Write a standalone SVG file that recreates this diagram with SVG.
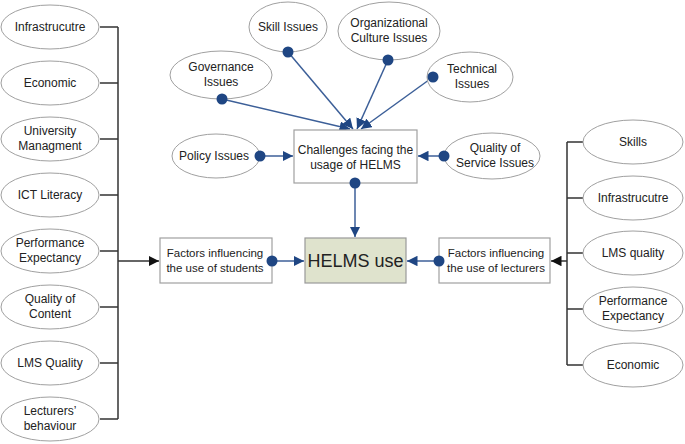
<svg xmlns="http://www.w3.org/2000/svg" width="685" height="444" viewBox="0 0 685 444">
<style>
.el{fill:#fff;stroke:#a0a0a0;stroke-width:1}
.bx{fill:#fff;stroke:#a0a0a0;stroke-width:1.2}
.t{font-family:"Liberation Sans",Arial,sans-serif;font-size:12px;fill:#222;text-anchor:middle}
.s{font-size:11.5px}
.bl{stroke:#3c5f98;stroke-width:1.5;fill:none}
.bk{stroke:#333;stroke-width:1.5;fill:none}
.dot{fill:#1f4683}
</style>
<defs>
<marker id="ab" viewBox="0 0 10 10" refX="10" refY="5" markerWidth="7" markerHeight="7" markerUnits="strokeWidth" orient="auto"><path d="M0,0L10,5L0,10z" fill="#1f4683"/></marker>
<marker id="ak" viewBox="0 0 10 10" refX="10" refY="5" markerWidth="7" markerHeight="7" markerUnits="strokeWidth" orient="auto"><path d="M0,0L10,5L0,10z" fill="#111"/></marker>
</defs>
<g id="connectors">
<path class="bk" d="M100,27H118M100,83H118M100,139H118M100,195H118M100,251H118M100,307H118M100,363H118M100,419H118M118,27V419"/>
<path class="bk" d="M118,261H159" marker-end="url(#ak)"/>
<path class="bk" d="M583,142H567M583,198H567M583,253H567M583,309H567M583,365H567M567,142V365"/>
<path class="bk" d="M567,261H551" marker-end="url(#ak)"/>
<path class="bl" d="M272,261H304" marker-end="url(#ab)"/>
<path class="bl" d="M439,261H407" marker-end="url(#ab)"/>
<path class="bl" d="M355,183V237" marker-end="url(#ab)"/>
<path class="bl" d="M260,156H293" marker-end="url(#ab)"/>
<path class="bl" d="M444,156H418" marker-end="url(#ab)"/>
<path class="bl" d="M222,99L350,129" marker-end="url(#ab)"/>
<path class="bl" d="M288,52L353,129" marker-end="url(#ab)"/>
<path class="bl" d="M388,60L357,129" marker-end="url(#ab)"/>
<path class="bl" d="M433,77L361,129" marker-end="url(#ab)"/>
</g>
<g id="n-infra-l"><ellipse class="el" cx="50" cy="27" rx="49" ry="22"/><text class="t" x="50" y="31">Infrastrucutre</text></g>
<g id="n-econ-l"><ellipse class="el" cx="50" cy="83" rx="49" ry="22"/><text class="t" x="50" y="87">Economic</text></g>
<g id="n-univ"><ellipse class="el" cx="50" cy="139" rx="49" ry="22"/><text class="t" x="50" y="135">University</text><text class="t" x="50" y="150">Managment</text></g>
<g id="n-ict"><ellipse class="el" cx="50" cy="195" rx="49" ry="22"/><text class="t" x="50" y="199">ICT Literacy</text></g>
<g id="n-perf-l"><ellipse class="el" cx="50" cy="251" rx="49" ry="22"/><text class="t" x="50" y="247">Performance</text><text class="t" x="50" y="262">Expectancy</text></g>
<g id="n-qoc"><ellipse class="el" cx="50" cy="307" rx="49" ry="22"/><text class="t" x="50" y="303">Quality of</text><text class="t" x="50" y="318">Content</text></g>
<g id="n-lms-l"><ellipse class="el" cx="50" cy="363" rx="49" ry="22"/><text class="t" x="50" y="367">LMS Quality</text></g>
<g id="n-lect"><ellipse class="el" cx="50" cy="419" rx="49" ry="22"/><text class="t" x="50" y="415">Lecturers’</text><text class="t" x="50" y="430">behaviour</text></g>
<g id="n-skills-r"><ellipse class="el" cx="633" cy="142" rx="50" ry="22"/><text class="t" x="633" y="146">Skills</text></g>
<g id="n-infra-r"><ellipse class="el" cx="633" cy="198" rx="50" ry="22"/><text class="t" x="633" y="202">Infrastrucutre</text></g>
<g id="n-lms-r"><ellipse class="el" cx="633" cy="253" rx="50" ry="22"/><text class="t" x="633" y="257">LMS quality</text></g>
<g id="n-perf-r"><ellipse class="el" cx="633" cy="309" rx="50" ry="22"/><text class="t" x="633" y="305">Performance</text><text class="t" x="633" y="320">Expectancy</text></g>
<g id="n-econ-r"><ellipse class="el" cx="633" cy="365" rx="50" ry="22"/><text class="t" x="633" y="369">Economic</text></g>
<g id="n-students"><rect class="bx" x="160" y="238" width="112" height="45"/><text class="t s" x="215" y="257">Factors influencing</text><text class="t s" x="215" y="272">the use of students</text><circle class="dot" cx="272" cy="261" r="5.5"/></g>
<g id="n-helms"><rect x="305" y="238" width="101" height="45" fill="#dfe3cd" stroke="#999" stroke-width="1.2"/><text class="t" x="355.5" y="267" style="font-size:18px">HELMS use</text></g>
<g id="n-lecturers"><rect class="bx" x="439" y="238" width="111" height="45"/><text class="t s" x="496" y="257">Factors influencing</text><text class="t s" x="496" y="272">the use of lecturers</text><circle class="dot" cx="439" cy="261" r="5.5"/></g>
<g id="n-challenges"><rect class="bx" x="294" y="130" width="123" height="53"/><text class="t" x="355.5" y="154">Challenges facing the</text><text class="t" x="355.5" y="169">usage of HELMS</text><circle class="dot" cx="355" cy="183" r="5.5"/></g>
<g id="n-policy"><ellipse class="el" cx="216" cy="156" rx="44" ry="22"/><text class="t" x="214" y="160">Policy Issues</text><circle class="dot" cx="260" cy="156" r="5.5"/></g>
<g id="n-qos"><ellipse class="el" cx="492" cy="156" rx="48" ry="23"/><text class="t" x="495" y="152">Quality of</text><text class="t" x="495" y="167">Service Issues</text><circle class="dot" cx="444" cy="156" r="5.5"/></g>
<g id="n-gov"><ellipse class="el" cx="221" cy="75" rx="51" ry="24"/><text class="t" x="221" y="71">Governance</text><text class="t" x="221" y="86">Issues</text><circle class="dot" cx="222" cy="99" r="5.5"/></g>
<g id="n-skill"><ellipse class="el" cx="288" cy="27" rx="39" ry="25"/><text class="t" x="288" y="31">Skill Issues</text><circle class="dot" cx="288" cy="52" r="5.5"/></g>
<g id="n-org"><ellipse class="el" cx="389" cy="31" rx="51" ry="29"/><text class="t" x="389" y="27">Organizational</text><text class="t" x="389" y="42">Culture Issues</text><circle class="dot" cx="388" cy="60" r="5.5"/></g>
<g id="n-tech"><ellipse class="el" cx="470" cy="77" rx="43" ry="25"/><text class="t" x="472" y="73">Technical</text><text class="t" x="472" y="88">Issues</text><circle class="dot" cx="433" cy="77" r="5.5"/></g>
</svg>
